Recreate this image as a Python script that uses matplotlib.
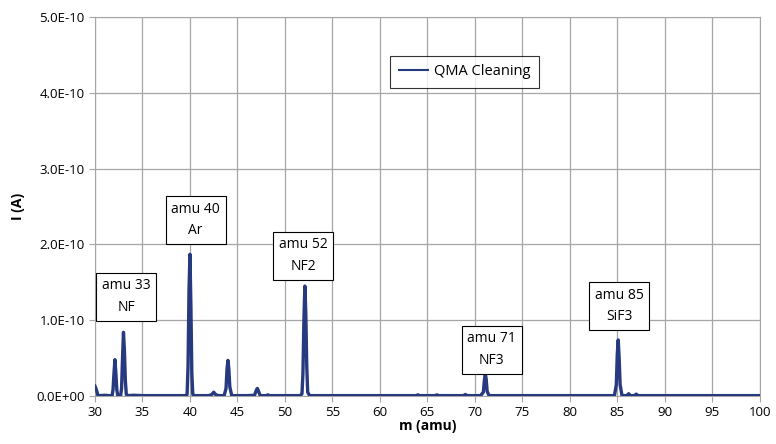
import numpy as np
import matplotlib
matplotlib.use("Agg")
import matplotlib.pyplot as plt

plt.rcParams['font.family'] = ['Open Sans', 'DejaVu Sans']

# mass spectrum, current in pA
mass = [30.0, 30.1, 30.2, 30.3, 30.5, 31.0, 31.5, 31.8, 31.9, 32.0, 32.1, 32.2, 32.3, 32.4,
        32.7, 32.8, 32.9, 33.0, 33.1, 33.2, 33.3, 33.5, 34.0, 35.0, 36.0, 37.0, 38.0, 39.0,
        39.5, 39.7, 39.8, 39.9, 40.0, 40.1, 40.2, 40.3, 40.5, 41.0, 42.0, 42.3, 42.5, 42.7,
        43.0, 43.6, 43.8, 43.9, 44.0, 44.1, 44.2, 44.4, 45.0, 46.0, 46.8, 47.0, 47.1, 47.2,
        47.4, 48.0, 48.2, 48.4, 49.0, 50.0, 51.0, 51.6, 51.8, 51.9, 52.0, 52.1, 52.2, 52.3,
        52.4, 52.6, 53.0, 55.0, 58.0, 60.0, 63.0, 63.8, 64.0, 64.2, 65.8, 66.0, 66.2, 68.0,
        68.8, 69.0, 69.2, 70.6, 70.9, 71.0, 71.1, 71.2, 71.3, 71.5, 73.0, 76.0, 80.0, 84.0,
        84.7, 84.9, 85.0, 85.1, 85.2, 85.3, 85.5, 86.0, 86.2, 86.4, 86.8, 87.0, 87.2, 88.0,
        90.0, 95.0, 100.0]
current_pA = [13, 10, 6, 1, 0.5, 1, 0.5, 0.5, 8, 30, 48, 30, 8, 0.5,
              0.5, 10, 50, 84, 60, 20, 2, 0.5, 1, 0.5, 0.5, 0.5, 0.5, 0.5,
              0.5, 2, 40, 140, 187, 120, 30, 2, 0.5, 0.5, 0.5, 2, 5, 2,
              0.5, 0.5, 10, 35, 47, 35, 12, 0.5, 0.5, 0.5, 1, 8, 10, 7,
              0.5, 0.5, 1.5, 0.5, 0.5, 0.5, 0.5, 0.5, 3, 30, 100, 145, 110, 40,
              5, 0.5, 0.5, 0.5, 0.5, 0.5, 0.5, 0.5, 1.5, 0.5, 0.5, 1.5, 0.5, 0.5,
              0.5, 2, 0.5, 0.5, 5, 20, 30, 22, 6, 0.5, 0.5, 0.5, 0.5, 0.5,
              0.5, 15, 55, 74, 50, 15, 0.5, 0.5, 3, 0.5, 0.5, 2.5, 0.5, 0.5,
              0.5, 0.5, 0.5]

# axis ticks
x_ticks = [30, 35, 40, 45, 50, 55, 60, 65, 70, 75, 80, 85, 90, 95, 100]
y_ticks = [0, 1e-10, 2e-10, 3e-10, 4e-10, 5e-10]
y_tick_labels = ["0.0E+00", "1.0E-10", "2.0E-10", "3.0E-10", "4.0E-10", "5.0E-10"]

# peak annotations: text, x, y (A)
labels = ["amu 33\nNF", "amu 40\nAr", "amu 52\nNF2", "amu 71\nNF3", "amu 85\nSiF3"]
label_x = [33.3, 40.6, 51.9, 71.8, 85.2]
label_y = [1.31e-10, 2.32e-10, 1.85e-10, 0.61e-10, 1.19e-10]

current = np.array(current_pA) * 1e-12

fig = plt.figure(figsize=(7.76, 4.44), dpi=100)
ax = fig.add_axes([0.1224, 0.1081, 0.8566, 0.8536])

ax.plot(mass, current, color='#273a80', lw=2.4, label='QMA Cleaning', zorder=3)

ax.set_xlim(30, 100)
ax.set_ylim(0, 5e-10)
ax.set_xticks(x_ticks)
ax.set_yticks(y_ticks)
ax.set_yticklabels(y_tick_labels)
ax.grid(True, color='#a6a6a6', lw=0.9)
for s in ax.spines.values():
    s.set_color('#a6a6a6')
ax.tick_params(colors='#a6a6a6', labelcolor='black', labelsize=9.5, length=4)

ax.set_xlabel('m (amu)', fontsize=10, fontweight='bold', labelpad=0)
ax.set_ylabel('I (A)', fontsize=10, fontweight='bold', labelpad=8)

for t, x, y in zip(labels, label_x, label_y):
    ax.text(x, y, t, ha='center', va='center', fontsize=10, linespacing=1.6,
            bbox=dict(boxstyle='square,pad=0.4', fc='white', ec='black', lw=0.8), zorder=4)

leg = ax.legend(loc='center', bbox_to_anchor=(0.556, 0.855), fontsize=10.5,
                frameon=True, fancybox=False, edgecolor='black', handlelength=2.0,
                borderpad=0.6, handletextpad=0.4)
leg.get_frame().set_linewidth(0.8)
leg.get_lines()[0].set_linewidth(1.5)

fig.savefig('out.png', dpi=100)
